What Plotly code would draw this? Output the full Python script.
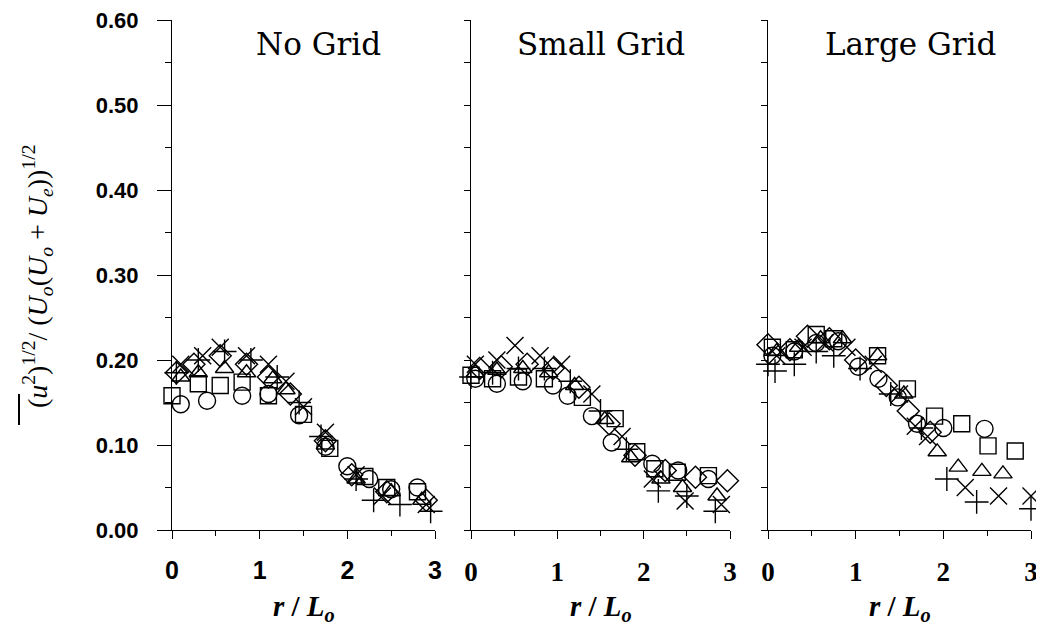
import plotly.graph_objects as go

# ---------------- data ----------------
panel_titles = ["No Grid", "Small Grid", "Large Grid"]
y_ticks = [0.0, 0.1, 0.2, 0.3, 0.4, 0.5, 0.6]
x_ticks = [0, 1, 2, 3]

# Panel 1: No Grid
ng_circle_r = [0.1, 0.4, 0.8, 1.1, 1.45, 1.75, 2.0, 2.25, 2.5, 2.8]
ng_circle_y = [0.148, 0.152, 0.158, 0.160, 0.135, 0.098, 0.075, 0.060, 0.048, 0.050]
ng_square_r = [0.0, 0.3, 0.55, 0.8, 1.1, 1.5, 1.8, 2.2, 2.45, 2.8]
ng_square_y = [0.158, 0.172, 0.170, 0.174, 0.158, 0.136, 0.096, 0.063, 0.050, 0.045]
ng_tri_r = [0.1, 0.3, 0.6, 0.85, 1.15, 1.3, 1.75, 2.1, 2.5, 2.85]
ng_tri_y = [0.180, 0.185, 0.190, 0.185, 0.178, 0.165, 0.100, 0.060, 0.045, 0.035]
ng_dia_r = [0.05, 0.25, 0.55, 0.85, 1.1, 1.35, 1.75, 2.05, 2.45, 2.9]
ng_dia_y = [0.185, 0.195, 0.205, 0.195, 0.180, 0.160, 0.105, 0.065, 0.045, 0.035]
ng_x_r = [0.1, 0.35, 0.55, 0.85, 1.1, 1.3, 1.5, 1.75, 2.1, 2.4, 2.9]
ng_x_y = [0.195, 0.205, 0.215, 0.205, 0.195, 0.175, 0.145, 0.115, 0.065, 0.040, 0.030]
ng_plus_r = [0.05, 0.3, 0.6, 0.9, 1.2, 1.45, 1.7, 2.1, 2.3, 2.6, 2.95]
ng_plus_y = [0.185, 0.200, 0.210, 0.200, 0.180, 0.150, 0.110, 0.060, 0.035, 0.030, 0.022]

# Panel 2: Small Grid
sg_circle_r = [0.05, 0.3, 0.6, 0.95, 1.12, 1.4, 1.63, 2.1, 2.4, 2.75]
sg_circle_y = [0.178, 0.172, 0.175, 0.170, 0.158, 0.134, 0.103, 0.078, 0.070, 0.060]
sg_square_r = [0.0, 0.25, 0.55, 0.85, 1.29, 1.67, 1.92, 2.13, 2.39, 2.75]
sg_square_y = [0.182, 0.178, 0.180, 0.178, 0.156, 0.131, 0.092, 0.072, 0.068, 0.064]
sg_tri_r = [0.05, 0.3, 0.6, 0.9, 1.2, 1.55, 1.85, 2.2, 2.45, 2.85]
sg_tri_y = [0.185, 0.188, 0.190, 0.185, 0.170, 0.130, 0.085, 0.060, 0.050, 0.040]
sg_dia_r = [0.1, 0.35, 0.65, 0.95, 1.25, 1.6, 1.9, 2.25, 2.6, 2.97]
sg_dia_y = [0.190, 0.192, 0.195, 0.190, 0.168, 0.125, 0.088, 0.070, 0.062, 0.058]
sg_x_r = [0.05, 0.3, 0.51, 0.8, 1.05, 1.4, 1.75, 2.1, 2.48, 2.9]
sg_x_y = [0.195, 0.200, 0.217, 0.205, 0.195, 0.160, 0.110, 0.060, 0.034, 0.030]
sg_plus_r = [0.0, 0.25, 0.55, 0.85, 1.15, 1.5, 1.8, 2.17, 2.5, 2.83]
sg_plus_y = [0.180, 0.185, 0.190, 0.190, 0.175, 0.140, 0.095, 0.046, 0.040, 0.022]

# Panel 3: Large Grid
lg_circle_r = [0.05, 0.3, 0.55, 0.8, 1.03, 1.26, 1.48, 1.7, 2.0, 2.47]
lg_circle_y = [0.205, 0.210, 0.220, 0.222, 0.192, 0.178, 0.156, 0.125, 0.120, 0.119]
lg_square_r = [0.05, 0.3, 0.55, 0.75, 1.25, 1.59, 1.9, 2.21, 2.51, 2.82]
lg_square_y = [0.215, 0.212, 0.230, 0.225, 0.205, 0.166, 0.134, 0.125, 0.099, 0.093]
lg_tri_r = [0.1, 0.35, 0.6, 0.85, 1.25, 1.55, 1.93, 2.17, 2.44, 2.68]
lg_tri_y = [0.210, 0.215, 0.225, 0.225, 0.205, 0.160, 0.092, 0.074, 0.069, 0.066]
lg_dia_r = [0.0, 0.25, 0.45, 0.7, 1.0, 1.35, 1.6, 1.85]
lg_dia_y = [0.218, 0.212, 0.228, 0.225, 0.200, 0.170, 0.140, 0.115]
lg_x_r = [0.1, 0.4, 0.65, 0.9, 1.2, 1.5, 1.68, 1.82, 2.25, 2.63, 3.0]
lg_x_y = [0.205, 0.215, 0.220, 0.215, 0.195, 0.160, 0.122, 0.110, 0.050, 0.040, 0.040]
lg_plus_r = [0.0, 0.08, 0.3, 0.55, 0.75, 1.05, 1.4, 1.75, 2.04, 2.38, 3.0]
lg_plus_y = [0.195, 0.187, 0.195, 0.210, 0.205, 0.190, 0.160, 0.120, 0.060, 0.033, 0.025]

panels = [
    [(ng_circle_r, ng_circle_y), (ng_square_r, ng_square_y), (ng_tri_r, ng_tri_y),
     (ng_dia_r, ng_dia_y), (ng_x_r, ng_x_y), (ng_plus_r, ng_plus_y)],
    [(sg_circle_r, sg_circle_y), (sg_square_r, sg_square_y), (sg_tri_r, sg_tri_y),
     (sg_dia_r, sg_dia_y), (sg_x_r, sg_x_y), (sg_plus_r, sg_plus_y)],
    [(lg_circle_r, lg_circle_y), (lg_square_r, lg_square_y), (lg_tri_r, lg_tri_y),
     (lg_dia_r, lg_dia_y), (lg_x_r, lg_x_y), (lg_plus_r, lg_plus_y)],
]
symbols = ["circle-open", "square-open", "triangle-up-open", "diamond-open", "x-thin", "cross-thin"]
sizes = [17, 16, 16, 17, 17, 17]

# ---------------- layout geometry (figure pixels; page body adds 8px) ----------------
W, H = 1044, 630
x_dom_px = [(164, 427), (463, 722), (760, 1023)]
y_dom_px = (522, 12)  # bottom, top (pixels from top of figure)

fig = go.Figure()

for i, series in enumerate(panels):
    xa = "x" if i == 0 else f"x{i+1}"
    ya = "y" if i == 0 else f"y{i+1}"
    for (r, v), sym, sz in zip(series, symbols, sizes):
        fig.add_trace(go.Scatter(
            x=r, y=v, mode="markers", xaxis=xa, yaxis=ya, cliponaxis=False,
            showlegend=False,
            marker=dict(symbol=sym, size=sz, color="black",
                        line=dict(color="black", width=1.4)),
        ))

ydom = [(H - y_dom_px[0]) / H, (H - y_dom_px[1]) / H]
tick_fonts = [dict(family="Liberation Sans", size=25, color="black"),
              dict(family="Liberation Serif", size=27, color="black"),
              dict(family="Liberation Serif", size=27, color="black")]

for i, (x0, x1) in enumerate(x_dom_px):
    sfx = "" if i == 0 else str(i + 1)
    fig.layout["xaxis" + sfx] = dict(
        domain=[x0 / W, x1 / W], range=[0, 3], anchor="y" + sfx,
        tickvals=x_ticks, ticktext=[f"<b>{t}</b>" for t in x_ticks],
        ticks="outside", ticklen=8, tickwidth=1, tickcolor="black",
        ticklabelstandoff=10, ticklabeloverflow="allow",
        minor=dict(dtick=0.5, ticks="outside", ticklen=5, tickcolor="black"),
        showline=True, linecolor="black", linewidth=1,
        showgrid=False, zeroline=False, tickfont=tick_fonts[i],
    )
    fig.layout["yaxis" + sfx] = dict(
        domain=ydom, range=[0, 0.6], anchor="x" + sfx,
        tickvals=y_ticks,
        ticktext=[f"<b>{t:.2f}</b>" for t in y_ticks] if i == 0 else [""] * len(y_ticks),
        showticklabels=(i == 0),
        ticks="outside", ticklen=14, tickwidth=1, tickcolor="black",
        ticklabelstandoff=14, ticklabeloverflow="allow",
        minor=dict(dtick=0.05, ticks="outside", ticklen=6, tickcolor="black"),
        showline=True, linecolor="black", linewidth=1,
        showgrid=False, zeroline=False,
        tickfont=dict(family="Liberation Sans", size=22, color="black"),
    )

annotations = []
title_x_px = [310, 593, 902]
for t, xp in zip(panel_titles, title_x_px):
    annotations.append(dict(
        text=t, x=xp / W, y=(H - 36) / H, xref="paper", yref="paper",
        showarrow=False, xanchor="center", yanchor="middle",
        font=dict(family="DejaVu Serif", size=31, color="black"),
    ))
for (x0, x1) in x_dom_px:
    annotations.append(dict(
        text="<b><i>r</i> / <i>L<sub>o</sub></i></b>", x=(x0 + x1) / 2 / W,
        y=(H - 600) / H, xref="paper", yref="paper", showarrow=False,
        xanchor="center", yanchor="middle",
        font=dict(family="Liberation Serif", size=29, color="black"),
    ))
annotations.append(dict(
    text="(<i>u</i><sup>2</sup>)<sup>1/2</sup>/ (<i>U<sub>o</sub></i>(<i>U<sub>o</sub></i> + <i>U<sub>e</sub></i>))<sup>1/2</sup>",
    x=29 / W, y=(H - 269) / H, xref="paper", yref="paper", showarrow=False,
    textangle=-90, xanchor="center", yanchor="middle",
    font=dict(family="Liberation Serif", size=28, color="black"),
))

# overline over the u^2 of the y-axis title (mean-square bar)
shapes = [dict(type="line", xref="paper", yref="paper",
               x0=11 / W, x1=11 / W, y0=(H - 386) / H, y1=(H - 417) / H,
               line=dict(color="black", width=2))]

fig.update_layout(
    width=W, height=H, margin=dict(l=0, r=0, t=0, b=0, autoexpand=False),
    paper_bgcolor="white", plot_bgcolor="white",
    annotations=annotations, shapes=shapes,
)

fig.write_html("out.html")
